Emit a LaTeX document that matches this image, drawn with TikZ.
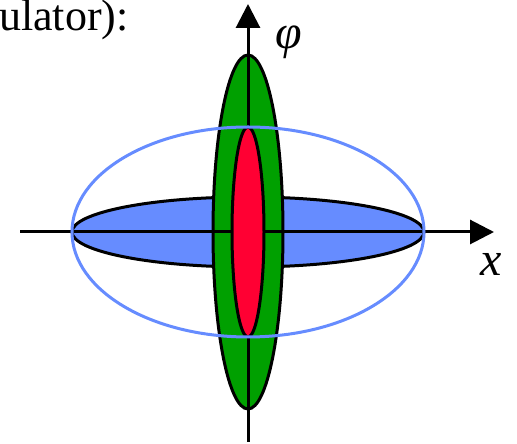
\documentclass[tikz,border=0pt]{standalone}
\usepackage{fontspec}
\setmainfont{Liberation Serif}
\usetikzlibrary{arrows.meta}
\definecolor{gfill}{RGB}{0,160,0}
\definecolor{rfill}{RGB}{255,0,51}
\definecolor{bfill}{RGB}{102,140,255}
\begin{document}
\begin{tikzpicture}[x=1pt,y=1pt,
  ellout/.style={draw=black,line width=3pt},
  axis/.style={line width=3pt,-{Triangle[length=24pt,width=24pt]}},
  lbl/.style={inner sep=0pt,font=\fontsize{44}{48}\selectfont},
  axlbl/.style={inner sep=0pt,font=\fontsize{48}{52}\selectfont\itshape}]
\useasboundingbox (0,0) rectangle (517,444);
\coordinate (C) at (248,212);
\coordinate (xs) at (20,212);
\coordinate (xe) at (494,212);
\coordinate (ys) at (248,2);
\coordinate (ye) at (248,440);
% blue flat ellipse
\filldraw[ellout,fill=bfill] (C) ellipse [x radius=176, y radius=35];
% green
\filldraw[ellout,fill=gfill] (C) ellipse [x radius=35, y radius=177];
% axes
\draw[axis] (xs) -- (xe);
\draw[axis] (ys) -- (ye);
% red
\filldraw[ellout,fill=rfill] (C) ellipse [x radius=16, y radius=105];
% blue outline
\draw[bfill,line width=3pt] (C) ellipse [x radius=176, y radius=105];
% labels
\node[lbl,anchor=base west] (t) at (-1,413) {ulator):};
\node[axlbl] (phi) at (289,402) {φ};
\node[axlbl] (xl) at (491,180) {x};
\end{tikzpicture}
\end{document}
